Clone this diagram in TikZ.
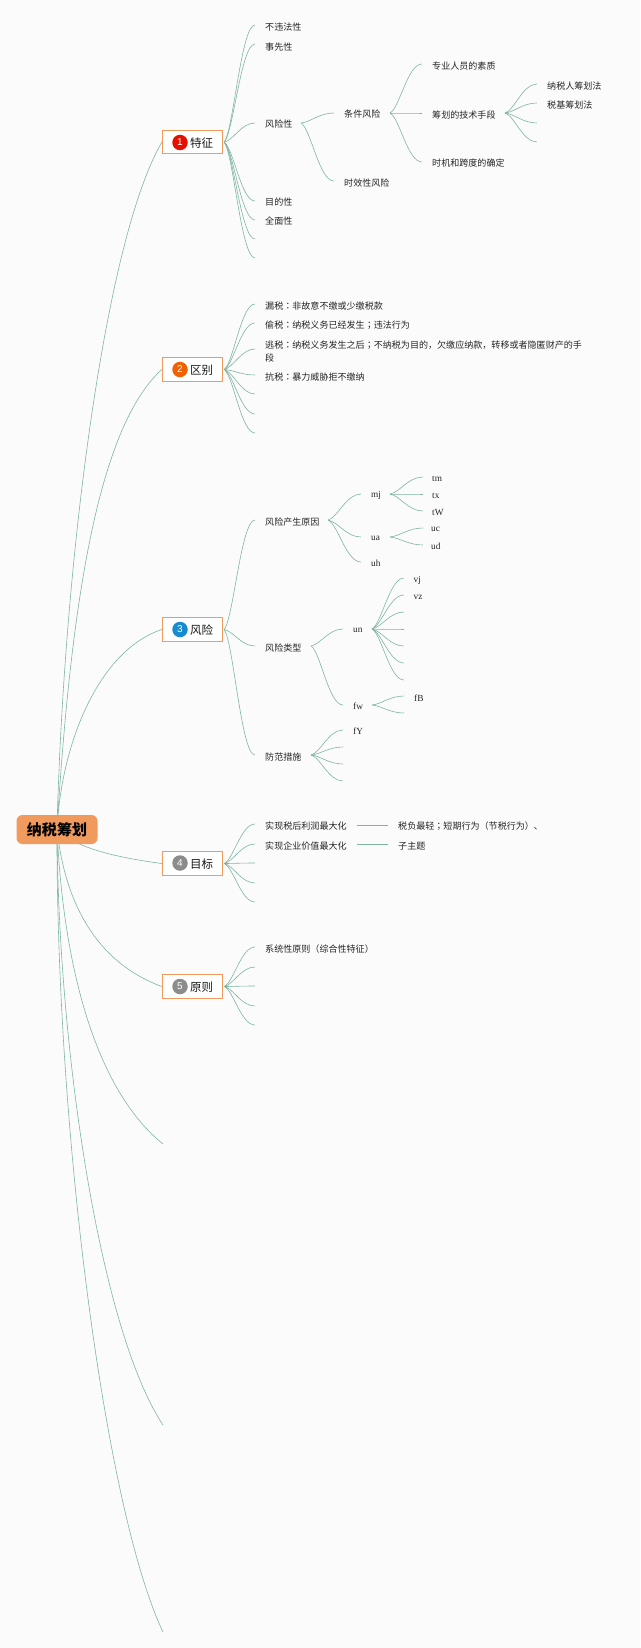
\documentclass[tikz,border=0pt]{standalone}
\usepackage{fontspec}
\usetikzlibrary{calc}
\setmainfont{Liberation Serif}
\newfontfamily\cjk{Noto Sans CJK SC}
\newfontfamily\cjktc{Noto Sans CJK TC}
\newfontfamily\arial{Liberation Sans}
\newcommand{\pc}[1]{{\cjktc #1}}
\definecolor{linec}{HTML}{7FB5A3}
\definecolor{bg}{HTML}{FBFBFC}
\definecolor{orangeb}{HTML}{F09A5E}
\tikzset{
  x=1pt,y=-1pt,
  link/.style={draw=linec,line width=0.6pt},
  leaf/.style={anchor=west,inner sep=0pt,yshift=-0.8pt,font=\cjk\fontsize{9.05}{12}\selectfont,text=black!85},
  lat/.style={anchor=west,inner sep=0pt,yshift=-0.4pt,font=\fontsize{9.3}{12}\selectfont,text=black!85},
  topic/.style={draw=orangeb,line width=0.9pt,fill=white,minimum width=60.5pt,minimum height=23.5pt,inner sep=0pt},
  badge/.style={circle,fill=#1,minimum size=15.5pt,inner sep=0pt,text=white,font=\arial\fontsize{10}{10}\selectfont},
  topictext/.style={anchor=west,inner sep=0pt,yshift=-0.5pt,font=\cjk\fontsize{11.5}{14}\selectfont,text=black!90},
  root/.style={fill=orangeb,rounded corners=6pt,minimum width=81pt,minimum height=29pt,inner sep=0pt,font=\cjk\bfseries\fontsize{15}{17}\selectfont,text=black},
}
\newcommand{\br}[2]{\coordinate (ca) at ($(#1)!0.3!(#2)$);\coordinate (cb) at ($(#1)!0.1!(#2)$);\coordinate (cc) at ($(#1)!0.55!(#2)$);\draw[link] (#1) .. controls (ca |- cb) and (cc |- #2) .. (#2);}
\begin{document}
\begin{tikzpicture}
\useasboundingbox[fill=bg] (0,0) rectangle (640,1648);

% topics
\node[topic] (t1) at (192.5,142.2) {};
\node[badge={red!85!orange!90!black}] (b1) at (180,142.5) {1};
\node[topictext] (l1) at (190,142.5) {特征};
\node[topic] (t2) at (192.5,369.5) {};
\node[badge={orange!80!red!95!black}] (b2) at (180,369.5) {2};
\node[topictext] (l2) at (190,369.5) {区别};
\node[topic] (t3) at (192.5,629.5) {};
\node[badge={cyan!75!blue!95!black}] (b3) at (180,629.5) {3};
\node[topictext] (l3) at (190,629.5) {风险};
\node[topic] (t4) at (192.5,863.5) {};
\node[badge={black!45}] (b4) at (180,863) {4};
\node[topictext] (l4) at (190,864) {目标};
\node[topic] (t5) at (192.5,986.5) {};
\node[badge={black!45}] (b5) at (180,986.5) {5};
\node[topictext] (l5) at (190,986.5) {原则};

% trunk
\coordinate (rt) at (57,828);
\coordinate (e6) at (163,1144);
\coordinate (e7) at (163,1425);
\coordinate (e8) at (163,1632);
\draw[link] (rt) .. controls (64,560) and (105,240) .. (t1.west);
\draw[link] (rt) .. controls (70,620) and (95,430) .. (t2.west);
\draw[link] (rt) .. controls (62,740) and (100,650) .. (t3.west);
\draw[link] (rt) .. controls (72,848) and (120,858) .. (t4.west);
\draw[link] (rt) .. controls (64,900) and (95,962) .. (t5.west);
\draw[link] (rt) .. controls (62,950) and (90,1085) .. (e6);
\draw[link] (rt) .. controls (58,1050) and (100,1330) .. (e7);
\draw[link] (rt) .. controls (56,1130) and (105,1510) .. (e8);
\node[root] (root) at (57,829.5) {纳税筹划};

% branch 1
\coordinate (s1) at ($(t1.east)+(1,0)$);
\foreach \n/\y in {a/25,b/44,c/123,d/201,e/220,f/239,g/258}{\coordinate (p\n) at (255,\y); \br{s1}{p\n}}
\node[leaf] (n1a) at (265,26.5) {不违法性};
\node[leaf] (n1b) at (265,46) {事先性};
\node[leaf] (n1c) at (265,123.5) {风险性};
\node[leaf] (n1d) at (265,201) {目的性};
\node[leaf] (n1e) at (265,220.5) {全面性};
\coordinate (c0) at (301,123);
\coordinate (c1) at (334,113);
\coordinate (c2) at (334,181);
\br{c0}{c1}\br{c0}{c2}
\node[leaf] (n2a) at (344,113.5) {条件风险};
\node[leaf] (n2b) at (344,182) {时效性风险};
\coordinate (d0) at (390,113);
\foreach \n/\y in {a/64,b/113,c/162}{\coordinate (q\n) at (422,\y); \br{d0}{q\n}}
\node[leaf] (n3a) at (432,65.5) {专业人员的素质};
\node[leaf] (n3b) at (432,114) {筹划的技术手段};
\node[leaf] (n3c) at (432,162.5) {时机和跨度的确定};
\coordinate (g0) at (505,113);
\foreach \n/\y in {a/84,b/103,c/123,d/142}{\coordinate (r\n) at (537,\y); \br{g0}{r\n}}
\node[leaf] (n4a) at (547,85) {纳税人筹划法};
\node[leaf] (n4b) at (547,104.5) {税基筹划法};

% branch 2
\coordinate (s2) at ($(t2.east)+(1,0)$);
\foreach \n/\y in {a/304,b/323,c/349,d/375,e/394,f/414,g/433}{\coordinate (u\n) at (255,\y); \br{s2}{u\n}}
\node[leaf] (n5a) at (265,305) {漏税\pc{：}非故意不缴或少缴税款};
\node[leaf] (n5b) at (265,324.5) {偷税\pc{：}纳税义务已经发生\pc{；}违法行为};
\node[leaf] (n5c) at (265,344) {逃税\pc{：}纳税义务发生之后\pc{；}不纳税为目的，欠缴应纳款，转移或者隐匿财产的手};
\node[leaf] (n5d) at (265,357) {段};
\node[leaf] (n5e) at (265,376) {抗税\pc{：}暴力威胁拒不缴纳};

% branch 3
\coordinate (s3) at ($(t3.east)+(1,0)$);
\coordinate (v1) at (255,520);
\coordinate (v2) at (255,646);
\coordinate (v3) at (255,755);
\br{s3}{v1}\br{s3}{v2}\br{s3}{v3}
\node[leaf] (n6a) at (265,521) {风险产生原因};
\node[leaf] (n6b) at (265,647) {风险类型};
\node[leaf] (n6c) at (265,756) {防范措施};
\coordinate (w0) at (328,520);
\coordinate (wa) at (361,494);
\coordinate (wb) at (361,537);
\coordinate (wc) at (361,562);
\br{w0}{wa}\br{w0}{wb}\br{w0}{wc}
\node[lat] (n7a) at (371,495.5) {mj};
\node[lat] (n7b) at (371,537.5) {ua};
\node[lat] (n7c) at (371,562.5) {uh};
\coordinate (x0) at (390,494);
\foreach \n/\y in {a/477,b/494,c/511}{\coordinate (xx\n) at (423,\y); \br{x0}{xx\n}}
\node[lat] (n8a) at (432,479) {tm};
\node[lat] (n8b) at (432,495.5) {tx};
\node[lat] (n8c) at (432,512) {tW};
\coordinate (y0) at (390,537);
\foreach \n/\y in {a/528,b/545}{\coordinate (yy\n) at (423,\y); \br{y0}{yy\n}}
\node[lat] (n9a) at (431,529) {uc};
\node[lat] (n9b) at (431,546) {ud};
\coordinate (z0) at (311,646);
\coordinate (za) at (343,629);
\coordinate (zb) at (343,705);
\br{z0}{za}\br{z0}{zb}
\node[lat] (n10a) at (353,630) {un};
\node[lat] (n10b) at (353,706) {fw};
\coordinate (k0) at (372,629);
\foreach \n/\y in {a/578,b/595,c/612,d/629,e/646,f/663,g/680}{\coordinate (kk\n) at (404,\y); \br{k0}{kk\n}}
\node[lat] (n11a) at (413.5,580) {vj};
\node[lat] (n11b) at (413.5,597) {vz};
\coordinate (l0) at (372,705);
\foreach \n/\y in {a/696,b/713}{\coordinate (ll\n) at (404,\y); \br{l0}{ll\n}}
\node[lat] (n12a) at (414,697.5) {fB};
\coordinate (m0) at (311,755);
\foreach \n/\y in {a/730,b/747,c/764,d/781}{\coordinate (mm\n) at (343,\y); \br{m0}{mm\n}}
\node[lat] (n13a) at (353,731) {fY};

% branch 4
\coordinate (s4) at ($(t4.east)+(1,0)$);
\foreach \n/\y in {a/824,b/844,c/863,d/883,e/902}{\coordinate (o\n) at (255,\y); \br{s4}{o\n}}
\node[leaf] (n14a) at (265,825.5) {实现税后利润最大化};
\node[leaf] (n14b) at (265,845) {实现企业价值最大化};
\node[leaf] (n15a) at (398,825.5) {税负最轻\pc{；}短期行为（节税行为）、};
\node[leaf] (n15b) at (398,845) {子主题};
\draw[link] ($(n14a.east)+(10,-1.5)$) -- ($(n15a.west)+(-10,-1.5)$);
\draw[link] ($(n14b.east)+(10,-1.5)$) -- ($(n15b.west)+(-10,-1.5)$);

% branch 5
\coordinate (s5) at ($(t5.east)+(1,0)$);
\foreach \n/\y in {a/947,b/967,c/986,d/1006,e/1025}{\coordinate (h\n) at (255,\y); \br{s5}{h\n}}
\node[leaf] (n16a) at (265,948.5) {系统性原则（综合性特征）};
\end{tikzpicture}
\end{document}
